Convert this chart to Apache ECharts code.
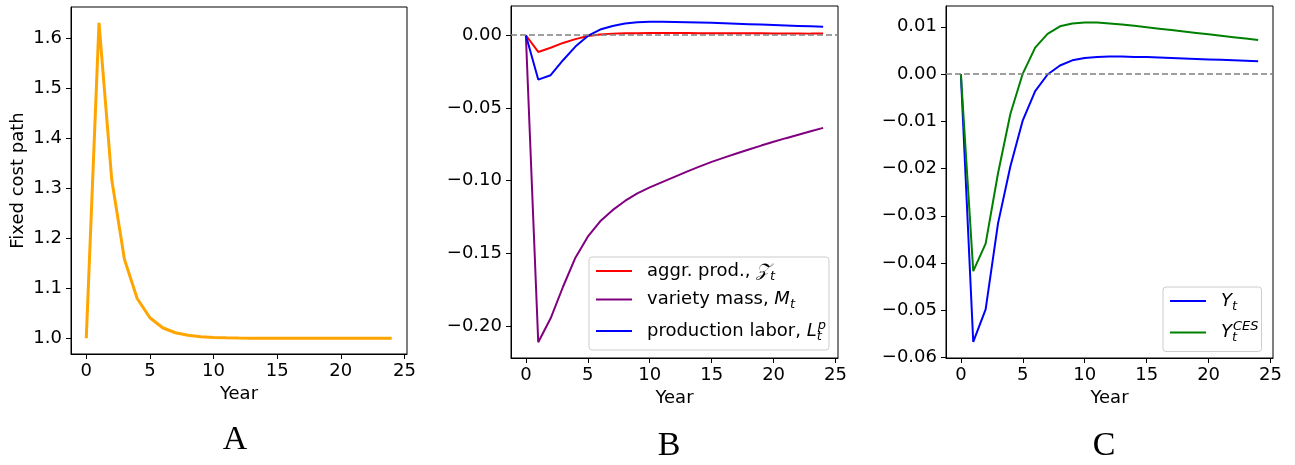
<!DOCTYPE html>
<html>
<head>
<meta charset="utf-8">
<script src="https://cdn.jsdelivr.net/npm/echarts@6/dist/echarts.min.js"></script>
<style>
  html, body { margin: 0; padding: 0; background: #fff; }
  #main { width: 1295px; height: 465px; }
</style>
</head>
<body>
<div id="main"></div>
<script>
var myChart = echarts.init(document.getElementById('main'));

// years 0..24
var years = [0,1,2,3,4,5,6,7,8,9,10,11,12,13,14,15,16,17,18,19,20,21,22,23,24];

// panel A: fixed cost path
var fixedCost = [1.0, 1.632, 1.318, 1.158, 1.0795, 1.041, 1.021, 1.011, 1.006, 1.003, 1.0015, 1.0008, 1.0004,
    1.0002, 1.0001, 1.0, 1.0, 1.0, 1.0, 1.0, 1.0, 1.0, 1.0, 1.0, 1.0];

// panel B
var aggrProd = [0, -0.0115, -0.0086, -0.0053, -0.0027, -0.0005, 0.0005, 0.0011, 0.0013, 0.0014, 0.0015, 0.0015,
    0.0015, 0.0015, 0.0014, 0.0014, 0.0014, 0.0013, 0.0013, 0.0013, 0.0012, 0.0012, 0.0012, 0.0011, 0.0011];
var varietyMass = [0, -0.2112, -0.1947, -0.173, -0.153, -0.1386, -0.128, -0.1203, -0.114, -0.1088, -0.1047,
    -0.101, -0.0974, -0.0938, -0.0904, -0.0871, -0.0842, -0.0813, -0.0786, -0.0759, -0.0733, -0.0708, -0.0684, -0.066, -0.0637];
var prodLabor = [0, -0.0305, -0.0275, -0.0172, -0.0078, -0.0005, 0.0039, 0.0064, 0.0081, 0.0089, 0.0092, 0.0092,
    0.0091, 0.0089, 0.0087, 0.0085, 0.0082, 0.0079, 0.0076, 0.0073, 0.007, 0.0067, 0.0064, 0.0061, 0.0058];

// panel C
var outputY = [0, -0.0567, -0.0498, -0.0316, -0.0195, -0.0098, -0.0036, -0.0001, 0.0018, 0.0029, 0.0034, 0.0036,
    0.0037, 0.0037, 0.0036, 0.0036, 0.0035, 0.0034, 0.0033, 0.0032, 0.0031, 0.003, 0.0029, 0.0028, 0.0027];
var outputCES = [0, -0.0417, -0.0359, -0.021, -0.0084, 0.0001, 0.0056, 0.0085, 0.0101, 0.0107, 0.0109, 0.0109,
    0.0107, 0.0105, 0.0102, 0.0099, 0.0096, 0.0093, 0.009, 0.0087, 0.0084, 0.0081, 0.0078, 0.0075, 0.0072];

// tick labels
var xTicks = [0, 5, 10, 15, 20, 25];
var yTicksA = [1.0, 1.1, 1.2, 1.3, 1.4, 1.5, 1.6];
var yTicksB = [-0.20, -0.15, -0.10, -0.05, 0.00];
var yTicksC = [-0.06, -0.05, -0.04, -0.03, -0.02, -0.01, 0.00, 0.01];

function pairs(vals) {
    var out = [];
    for (var i = 0; i < years.length; i++) {
        out.push([years[i], vals[i]]);
    }
    return out;
}

function fmt(d) {
    return function(v) {
        var s = Math.abs(v).toFixed(d);
        return (v < -1e-9 ? '\u2212' : '') + s;
    };
}

var font = 'DejaVu Sans';
var black = '#000';

function xAxis(idx) {
    return {
        type: 'value', gridIndex: idx, min: -1.2, max: 25.2,
        name: 'Year', nameLocation: 'middle', nameGap: 31,
        nameTextStyle: { fontSize: 18, fontFamily: font, color: black },
        axisLine: { show: true, onZero: false, lineStyle: { color: black, width: 1 } },
        axisTick: { show: true, length: 5, customValues: xTicks, lineStyle: { color: black } },
        axisLabel: { customValues: xTicks, margin: 8, fontSize: 18, fontFamily: font, color: black },
        splitLine: { show: false }
    };
}

function yAxis(idx, min, max, ticks, d) {
    return {
        type: 'value', gridIndex: idx, min: min, max: max,
        axisLine: { show: true, onZero: false, lineStyle: { color: black, width: 1 } },
        axisTick: { show: true, length: 5, customValues: ticks, lineStyle: { color: black } },
        axisLabel: { customValues: ticks, margin: 9, fontSize: 18, fontFamily: font, color: black, formatter: fmt(d) },
        splitLine: { show: false }
    };
}

var yA = yAxis(0, 0.9684, 1.6636, yTicksA, 1);
yA.name = 'Fixed cost path';
yA.nameLocation = 'middle';
yA.nameGap = 44;
yA.nameTextStyle = { fontSize: 18, fontFamily: font, color: black };

var zeroLine = {
    silent: true,
    symbol: ['none', 'none'],
    label: { show: false },
    lineStyle: { type: [6, 3], color: '#808080', width: 1.5 },
    data: [{ yAxis: 0 }]
};

var rich = {
    n: { fontSize: 18, fontFamily: font, color: black, lineHeight: 24 },
    it: { fontSize: 18, fontFamily: font, fontStyle: 'italic', color: black, lineHeight: 24 },
    sub: { fontSize: 13, fontFamily: font, fontStyle: 'italic', color: black, verticalAlign: 'bottom' },
    sub0: { fontSize: 13, fontFamily: font, fontStyle: 'italic', color: black, verticalAlign: 'bottom', width: 1 },
    sup: { fontSize: 13, fontFamily: font, fontStyle: 'italic', color: black, verticalAlign: 'top' }
};

var labels = {
    'aggr': '{n|aggr. prod., }{it|\uD835\uDCB5}{sub|t}',
    'variety': '{n|variety mass, }{it|M}{sub|t}',
    'labor': '{n|production labor, }{it|L}{sub0|t}{sup|p}',
    'Y': '{it|Y}{sub|t}',
    'Yces': '{it|Y}{sub0|t}{sup|CES}'
};

function legend(names, left, top) {
    return {
        data: names, orient: 'vertical', left: left, top: top,
        padding: [5, 3, 7, 7], itemGap: 7.5,
        icon: 'rect', itemWidth: 36, itemHeight: 2,
        selectedMode: false,
        borderColor: '#cccccc', borderWidth: 1, borderRadius: 3,
        backgroundColor: 'rgba(255,255,255,0.8)',
        textStyle: { padding: [0, 0, 0, 10], rich: rich },
        formatter: function(name) { return labels[name]; }
    };
}

option = {
    animation: false,
    grid: [
        { left: 71, top: 7, width: 336, height: 347, show: true, borderColor: black, borderWidth: 1 },
        { left: 511, top: 6, width: 327, height: 352, show: true, borderColor: black, borderWidth: 1 },
        { left: 946, top: 6, width: 327, height: 352, show: true, borderColor: black, borderWidth: 1 }
    ],
    xAxis: [xAxis(0), xAxis(1), xAxis(2)],
    yAxis: [
        yA,
        yAxis(1, -0.222, 0.0201, yTicksB, 2),
        yAxis(2, -0.0601, 0.0144, yTicksC, 2)
    ],
    legend: [
        legend(['aggr', 'variety', 'labor'], 589, 257),
        legend(['Y', 'Yces'], 1163, 287)
    ],
    series: [
        {
            name: 'fixed', type: 'line', xAxisIndex: 0, yAxisIndex: 0, data: pairs(fixedCost),
            symbol: 'none', color: '#ffa500', lineStyle: { width: 3, color: '#ffa500' }
        },
        {
            name: 'aggr', type: 'line', xAxisIndex: 1, yAxisIndex: 1, data: pairs(aggrProd),
            symbol: 'none', color: '#ff0000', lineStyle: { width: 2, color: '#ff0000' },
            markLine: zeroLine
        },
        {
            name: 'variety', type: 'line', xAxisIndex: 1, yAxisIndex: 1, data: pairs(varietyMass),
            symbol: 'none', color: '#800080', lineStyle: { width: 2, color: '#800080' }
        },
        {
            name: 'labor', type: 'line', xAxisIndex: 1, yAxisIndex: 1, data: pairs(prodLabor),
            symbol: 'none', color: '#0000ff', lineStyle: { width: 2, color: '#0000ff' }
        },
        {
            name: 'Y', type: 'line', xAxisIndex: 2, yAxisIndex: 2, data: pairs(outputY),
            symbol: 'none', color: '#0000ff', lineStyle: { width: 2, color: '#0000ff' },
            markLine: zeroLine
        },
        {
            name: 'Yces', type: 'line', xAxisIndex: 2, yAxisIndex: 2, data: pairs(outputCES),
            symbol: 'none', color: '#008000', lineStyle: { width: 2, color: '#008000' }
        }
    ],
    graphic: [
        { type: 'text', x: 235, y: 440, style: { text: 'A', font: '34px "Liberation Serif"', fill: black, align: 'center', verticalAlign: 'middle' } },
        { type: 'text', x: 669, y: 446, style: { text: 'B', font: '34px "Liberation Serif"', fill: black, align: 'center', verticalAlign: 'middle' } },
        { type: 'text', x: 1104, y: 446, style: { text: 'C', font: '34px "Liberation Serif"', fill: black, align: 'center', verticalAlign: 'middle' } }
    ]
};

myChart.setOption(option);
window.onresize = myChart.resize;
</script>
</body>
</html>
